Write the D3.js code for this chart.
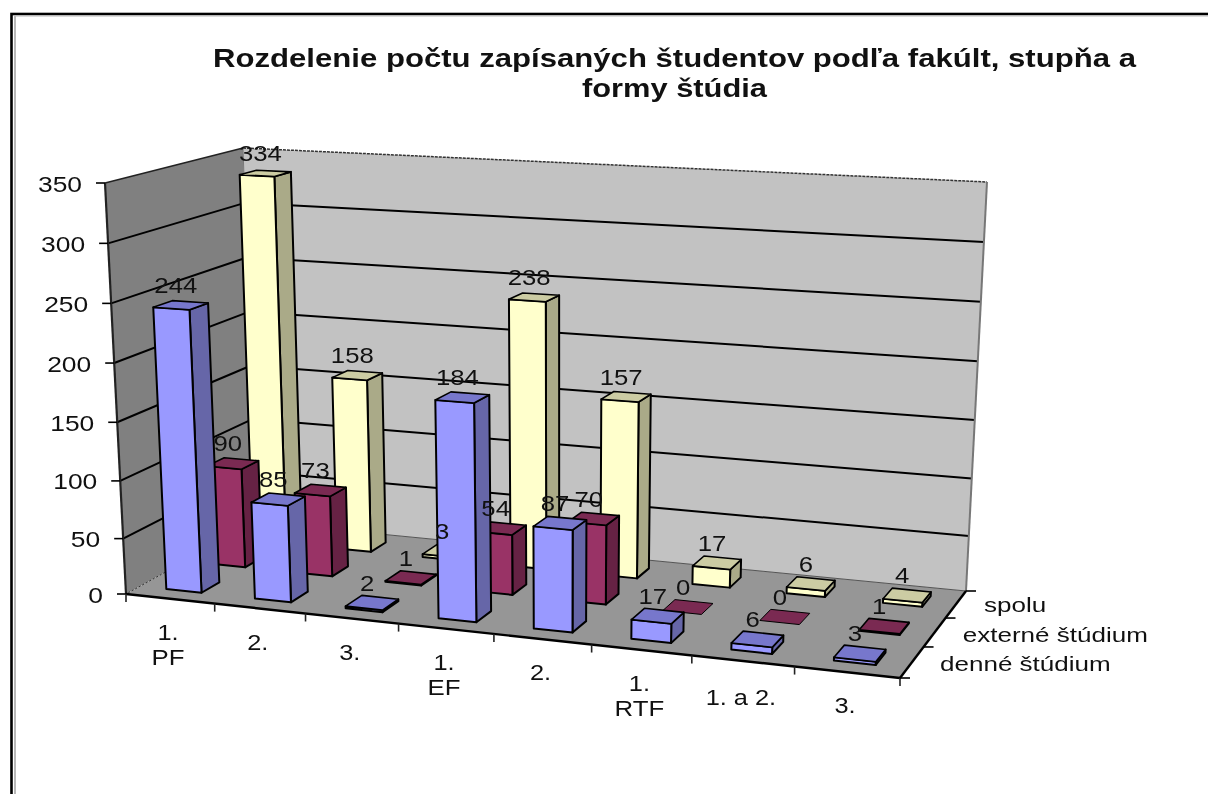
<!DOCTYPE html>
<html><head><meta charset="utf-8">
<script src="https://cdn.jsdelivr.net/npm/d3@7/dist/d3.min.js"></script>
<style>html,body{margin:0;padding:0;background:#fff}svg{display:block;filter:blur(.55px)}text{font-family:"Liberation Sans",Arial,sans-serif;fill:#111}</style>
</head><body><svg id="c" width="1208" height="794"></svg>
<script>
const titleLines=["Rozdelenie počtu zapísaných študentov podľa fakúlt, stupňa a","formy štúdia"];
const catLine1=["1.","2.","3.","1.","2.","1.","1. a 2.","3."];
const catLine2=["PF","","","EF","","RTF","",""];
const seriesNames=["denné štúdium","externé štúdium","spolu"];
const denne=[244,85,2,184,87,17,6,3];
const externe=[90,73,1,54,70,0,0,1];
const spolu=[334,158,3,238,157,17,6,4];
const seriesValues=[denne,externe,spolu];
const valueTicks=[0,50,100,150,200,250,300,350];
const faceColors=[
 {front:"#9999ff",side:"#6666a8",top:"#7777cc"},
 {front:"#993366",side:"#662244",top:"#7a2a52"},
 {front:"#ffffcc",side:"#aaaa88",top:"#cccca3"}];

const svg=d3.select("#c");
// box corners of the 3-D plot
const low ={fl:[126,594],fr:[900,678],br:[966,591],bl:[256,522]};
const high={fl:[105,183],fr:[920,225],br:[987,182],bl:[243,148]};
const uS=d3.scaleBand().domain(d3.range(8)).range([0,1]);
const dS=d3.scaleBand().domain(d3.range(3)).range([0,1]);
const vS=d3.scalePow().exponent(1.03).domain([0,350]).range([0,1]);
function homog(c){ // unit square -> quad (0,0)=fl (1,0)=fr (1,1)=br (0,1)=bl
 const [x0,y0]=c.fl,[x1,y1]=c.fr,[x2,y2]=c.br,[x3,y3]=c.bl;
 const dx1=x1-x2,dx2=x3-x2,sx=x0-x1+x2-x3,dy1=y1-y2,dy2=y3-y2,sy=y0-y1+y2-y3;
 const den=dx1*dy2-dx2*dy1,g=(sx*dy2-dx2*sy)/den,h=(dx1*sy-sx*dy1)/den;
 const a=x1-x0+g*x1,b=x3-x0+h*x3,d=y1-y0+g*y1,e=y3-y0+h*y3;
 return (u,v)=>{const w=g*u+h*v+1;return[(a*u+b*v+x0)/w,(d*u+e*v+y0)/w];};
}
const hLow=homog(low),hHigh=homog(high);
function P(u,d,val){const t=vS(val),a=hLow(u,d),b=hHigh(u,d);return[a[0]+(b[0]-a[0])*t,a[1]+(b[1]-a[1])*t];}
const poly=(pts,fill,stroke,sw,dash)=>svg.append("polygon").attr("points",pts.map(p=>p.join(",")).join(" "))
 .attr("fill",fill).attr("stroke",stroke||"none").attr("stroke-width",sw||0).attr("stroke-dasharray",dash||null).attr("stroke-linejoin","round");
const line=(a,b,w,col,dash)=>svg.append("line").attr("x1",a[0]).attr("y1",a[1]).attr("x2",b[0]).attr("y2",b[1])
 .attr("stroke",col||"#000").attr("stroke-width",w).attr("stroke-dasharray",dash||null);
function label(str,x,y,size,anchor,weight,sx){
 const t=svg.append("text").text(str).attr("font-size",size).attr("text-anchor",anchor||"middle")
  .attr("font-weight",weight||"normal").attr("transform",`translate(${x},${y}) scale(${sx||1.2},1)`);
 return t;
}
// frame
svg.append("rect").attr("x",11.5).attr("y",14).attr("width",1300).attr("height",900).attr("fill","none").attr("stroke","#000").attr("stroke-width",2.6);
svg.append("line").attr("x1",15).attr("y1",16).attr("x2",15).attr("y2",794).attr("stroke","#b8b8b8").attr("stroke-width",2);
svg.append("line").attr("x1",15).attr("y1",16).attr("x2",1208).attr("y2",16).attr("stroke","#b8b8b8").attr("stroke-width",1);
// title
label(titleLines[0],674.5,67,25,"middle","bold",1).attr("textLength",923).attr("lengthAdjust","spacingAndGlyphs");
label(titleLines[1],674.5,97,25,"middle","bold",1).attr("textLength",185).attr("lengthAdjust","spacingAndGlyphs");
// walls and floor
poly([P(0,0,0),P(0,0,350),P(0,1,350),P(0,1,0)],"#808080");
poly([P(0,1,0),P(0,1,350),P(1,1,350),P(1,1,0)],"#c2c2c2");
poly([P(0,0,0),P(1,0,0),P(1,1,0),P(0,1,0)],"#969696");
// gridlines
valueTicks.slice(1,-1).forEach(v=>{line(P(0,0,v),P(0,1,v),2);line(P(0,1,v),P(1,1,v),2);});
line(P(0,0,350),P(0,1,350),1.5,"#222");
line(P(0,1,350),P(1,1,350),1.5,"#333","3 1");
line(P(0,0,0),P(0,0,350),2.2,"#222");
line(P(1,1,0),P(1,1,350),2,"#777");
line(P(0,1,0),P(0,1,350),1,"#777");
line(P(0,1,0),P(0,0,0),1,"#333","2 2");
line(P(0,1,0),P(1,1,0),1,"#555");
// axes
line(P(0,0,0),P(1,0,0),2.4);
line(P(1,0,0),P(1,1,0),2.4);
valueTicks.forEach(v=>{const p=P(0,0,v);line([p[0]-9,p[1]],p,1.6);
 label(v,p[0]-23,p[1]+8.5,22,"end","normal",1.2);});
d3.range(9).forEach(i=>{const p=P(i/8,0,0);line(p,[p[0],p[1]+8],1.6,"#222");});
d3.range(4).forEach(i=>{const p=P(1,i/3,0);line(p,[p[0]+10,p[1]],1.6);});
// bars
const bw=uS.bandwidth()*.4,bd=dS.bandwidth()*.4;
const labels=[];
[2,1,0].forEach(s=>{
 seriesValues[s].forEach((val,i)=>{
  const u0=uS(i)+uS.bandwidth()*.3,u1=u0+bw,d0=dS(s)+dS.bandwidth()*.3,d1=d0+bd;
  const c=faceColors[s];
  if(val>0){
   poly([P(u1,d0,0),P(u1,d1,0),P(u1,d1,val),P(u1,d0,val)],c.side,"#000",2);
   poly([P(u0,d0,0),P(u1,d0,0),P(u1,d0,val),P(u0,d0,val)],c.front,"#000",2);
  }
  poly([P(u0,d0,val),P(u1,d0,val),P(u1,d1,val),P(u0,d1,val)],c.top,"#000",val>0?1.6:1);
  const q=P((u0+u1)/2,(d0+d1)/2,val);
  labels.push([val,q[0]-5,q[1]-12]);
 });
});
labels.forEach(l=>label(l[0],l[1],l[2],22,"middle","normal",1.17));
// category labels
catLine1.forEach((t,i)=>{
 const p=P(uS(i)+uS.bandwidth()/2,0,0);
 label(t,p[0]-2,p[1]+41+(t.length>2?3:0),21.5,"middle","normal",1.18);
 if(catLine2[i])label(catLine2[i],p[0]-2,p[1]+66,21.5,"middle","normal",1.2);
});
// series labels
seriesNames.forEach((t,s)=>{
 const p=P(1,dS(s)+dS.bandwidth()/2,0);
 label(t,p[0]+28,p[1]+(s==0?9:s==1?9.5:8),21,"start","normal",1.24);
});
</script></body></html>
